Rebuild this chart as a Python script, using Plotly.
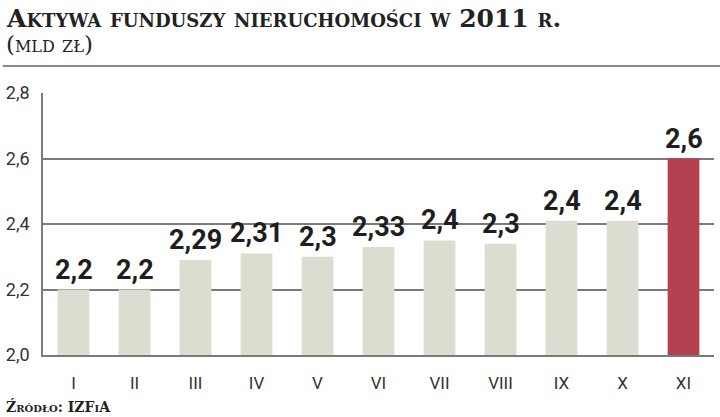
import plotly.graph_objects as go

# Aktywa funduszy nieruchomości, mld zł (2011)
months = ['I', 'II', 'III', 'IV', 'V', 'VI', 'VII', 'VIII', 'IX', 'X', 'XI']
assets = [2.20, 2.20, 2.29, 2.31, 2.30, 2.33, 2.35, 2.34, 2.41, 2.41, 2.60]
labels = ['2,2', '2,2', '2,29', '2,31', '2,3', '2,33', '2,4', '2,3', '2,4', '2,4', '2,6']
y_ticks = [2.0, 2.2, 2.4, 2.6, 2.8]

GREY_BAR = '#dcdcd1'
RED_BAR = '#b5404f'
LINE = '#7a7a7a'
colors = [GREY_BAR] * (len(months) - 1) + [RED_BAR]

fig = go.Figure()
fig.add_trace(go.Bar(
    x=months,
    y=assets,
    base=0,
    marker_color=colors,
    marker_line_width=0,
    hoverinfo='x+y',
))

# etykiety wartosci nad slupkami
for m, v, lab in zip(months, assets, labels):
    fig.add_annotation(
        x=m, y=v, text=lab, showarrow=False,
        yanchor='bottom', yshift=2,
        font=dict(family='Roboto', size=27, color='#1e1e1e', weight='bold'),
    )

fig.update_layout(
    width=720,
    height=417,
    margin=dict(l=40, r=6, t=93, b=62),
    paper_bgcolor='white',
    plot_bgcolor='white',
    showlegend=False,
    bargap=0.48,
    separators=', ',
    xaxis=dict(
        showgrid=False,
        showline=True,
        linecolor=LINE,
        linewidth=1.5,
        ticks='',
        ticklabelstandoff=12,
        tickfont=dict(family='Roboto', size=17, color='#333'),
    ),
    yaxis=dict(
        range=[2.0, 2.8],
        tickvals=y_ticks,
        tickformat='.1f',
        showgrid=True,
        gridcolor=LINE,
        gridwidth=1.5,
        showline=True,
        linecolor=LINE,
        linewidth=1.5,
        zeroline=False,
        ticks='',
        ticklabelstandoff=8,
        tickfont=dict(family='Roboto', size=18, color='#333'),
    ),
)

# naglowek, podpis i zrodlo
fig.add_annotation(
    text='<b>Aktywa funduszy nieruchomości w 2011 r.</b>',
    xref='paper', yref='paper', x=-0.058, y=1.0, yanchor='bottom', xanchor='left',
    yshift=58, showarrow=False,
    font=dict(family='DejaVu Serif', size=25, color='#222', variant='small-caps'),
)
fig.add_annotation(
    text='(mld zł)',
    xref='paper', yref='paper', x=-0.058, y=1.0, yanchor='bottom', xanchor='left',
    yshift=34, showarrow=False,
    font=dict(family='DejaVu Serif', size=23, color='#222', variant='small-caps'),
)
fig.add_annotation(
    text='<b>Źródło: IZFiA</b>',
    xref='paper', yref='paper', x=-0.058, y=0, yanchor='top', xanchor='left',
    yshift=-41, showarrow=False,
    font=dict(family='DejaVu Serif', size=14, color='#222', variant='small-caps'),
)
# pozioma linia pod naglowkiem
fig.add_shape(
    type='line', xref='paper', yref='paper', x0=-0.06, x1=1.01, y0=1.103, y1=1.103,
    line=dict(color='#8a8a8a', width=2),
)

fig.write_html('out.html', config={'displayModeBar': False},
               post_script="document.body.style.margin='0';")
